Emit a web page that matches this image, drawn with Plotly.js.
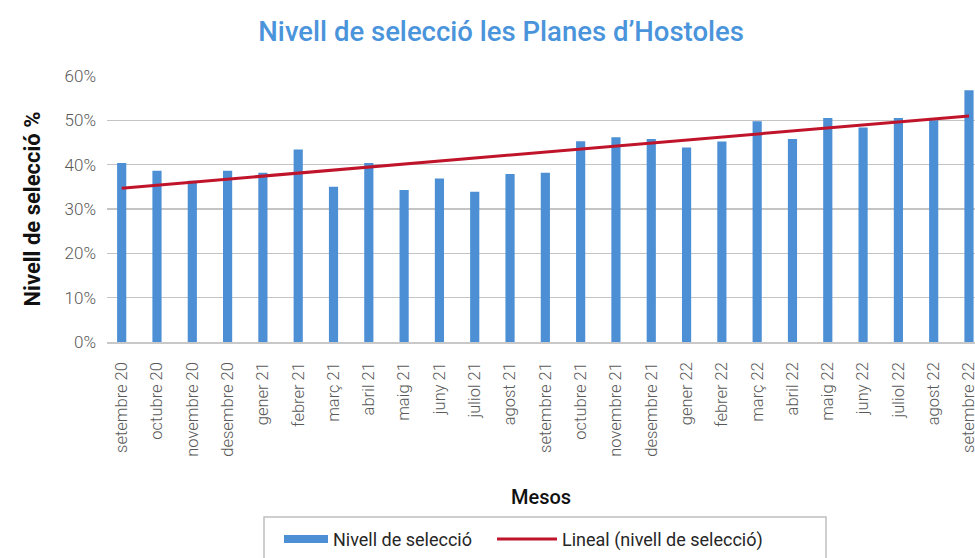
<!DOCTYPE html>
<html>
<head>
<meta charset="utf-8">
<script src="https://cdn.plot.ly/plotly-3.0.1.min.js"></script>
<style>
html,body{margin:0;padding:0;background:#fff;}
#chart{width:975px;height:558px;}
</style>
</head>
<body>
<div id="chart"></div>
<script>
const months = ["setembre 20","octubre 20","novembre 20","desembre 20","gener 21","febrer 21","març 21","abril 21","maig 21","juny 21","juliol 21","agost 21","setembre 21","octubre 21","novembre 21","desembre 21","gener 22","febrer 22","març 22","abril 22","maig 22","juny 22","juliol 22","agost 22","setembre 22"];
const nivell = [40.4,38.6,36.4,38.6,38.2,43.4,35.0,40.4,34.3,36.9,33.9,37.9,38.2,45.3,46.2,45.8,43.9,45.2,49.8,45.8,50.5,48.4,50.5,50.0,56.8];
const trendX = ["setembre 20","setembre 22"];
const trendY = [34.7,51.0];
const yTicks = [0,10,20,30,40,50,60];
const yTickText = ["0%","10%","20%","30%","40%","50%","60%"];

const font = "Roboto, 'Noto Sans', sans-serif";
const barColor = "#4c8fd5";
const trendColor = "#c0142b";

const traces = [
  {
    type: "bar",
    name: "Nivell de selecció",
    x: months,
    y: nivell,
    width: 0.26,
    marker: {color: barColor},
    showlegend: false,
    legendgroup: "bars"
  },
  {
    type: "scatter",
    mode: "lines",
    name: "Nivell de selecció",
    x: [null],
    y: [null],
    line: {color: barColor, width: 8},
    legendgroup: "bars",
    legend: "legend",
    showlegend: true
  },
  {
    type: "scatter",
    mode: "lines",
    name: "Lineal (nivell de selecció)",
    x: trendX,
    y: trendY,
    line: {color: trendColor, width: 3},
    legend: "legend2",
    showlegend: true
  }
];

const px2x = p => (p - 107) / 868;
const legendFont = {family: font, size: 18, color: "#262626"};

const layout = {
  width: 975,
  height: 558,
  paper_bgcolor: "#ffffff",
  plot_bgcolor: "#ffffff",
  margin: {l: 107, r: 0, t: 76, b: 213},
  font: {family: font},
  title: {
    text: "Nivell de selecció les Planes d’Hostoles",
    font: {family: font, size: 27.5, color: "#4a94db", weight: 500},
    x: 0.514, xanchor: "center",
    y: 0.943, yanchor: "middle"
  },
  showlegend: true,
  legend: {
    orientation: "h",
    x: px2x(279), xanchor: "left",
    y: -0.672, yanchor: "top",
    borderwidth: 0,
    bgcolor: "rgba(0,0,0,0)",
    font: legendFont,
    itemwidth: 44
  },
  legend2: {
    orientation: "h",
    x: px2x(492), xanchor: "left",
    y: -0.672, yanchor: "top",
    borderwidth: 0,
    bgcolor: "rgba(0,0,0,0)",
    font: legendFont,
    itemwidth: 60
  },
  shapes: [
    {
      type: "rect", xref: "paper", yref: "paper",
      x0: px2x(264), x1: px2x(826),
      y0: (345 - 522) / 269, y1: (345 - 570) / 269,
      line: {color: "#bfbfbf", width: 1.5},
      fillcolor: "rgba(0,0,0,0)",
      layer: "below"
    }
  ],
  xaxis: {
    type: "category",
    range: [-0.416, 24.17],
    tickangle: -90,
    tickfont: {family: font, size: 16.5, color: "#595959", weight: 300},
    ticks: "",
    ticklabelstandoff: 12,
    showgrid: false,
    showline: true,
    linecolor: "#c8c8c8",
    linewidth: 1.5,
    automargin: false,
    title: {
      text: "Mesos",
      font: {family: font, size: 20, color: "#111111", weight: 500},
      standoff: 34
    }
  },
  yaxis: {
    range: [0, 60],
    tickvals: yTicks,
    ticktext: yTickText,
    tickfont: {family: font, size: 17, color: "#595959", weight: 300},
    ticks: "",
    ticklabelstandoff: 10,
    showgrid: true,
    gridcolor: "#c4c4c4",
    gridwidth: 1.5,
    zeroline: false,
    showline: false,
    automargin: false,
    title: {
      text: "Nivell de selecció %",
      font: {family: font, size: 22, color: "#111111", weight: 700},
      standoff: 17
    }
  }
};

Plotly.newPlot("chart", traces, layout, {displayModeBar: false, staticPlot: true});
</script>
</body>
</html>
